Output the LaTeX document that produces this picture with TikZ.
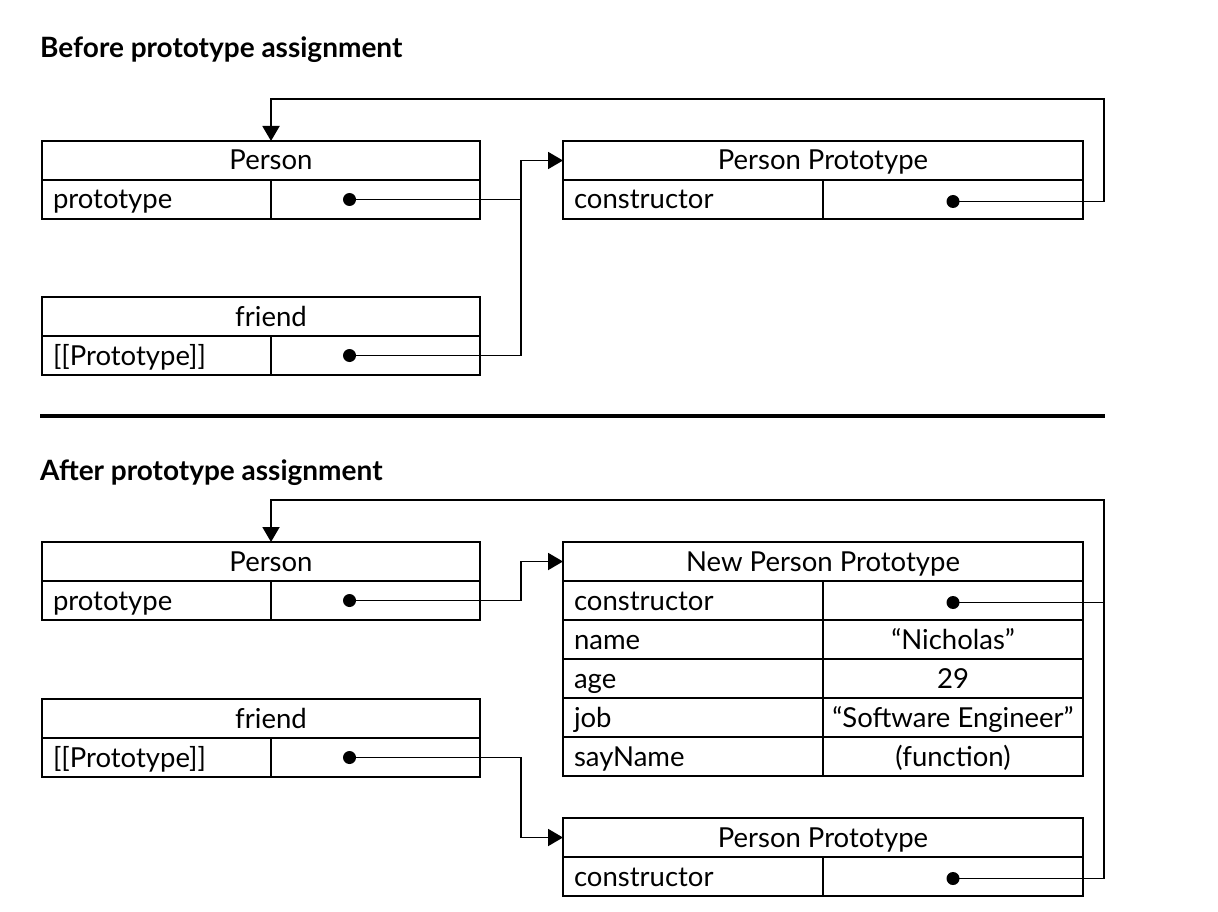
\documentclass[tikz,border=0pt]{standalone}
\usepackage{fontspec}
\setmainfont{Lato}
\usetikzlibrary{arrows.meta,positioning}

\begin{document}
\begin{tikzpicture}[x=1pt,y=-1pt,
  cell/.style={draw, line width=2pt, minimum height=39pt, inner sep=0pt, outer sep=0pt,
    text height=22pt, text depth=3pt,
    anchor=north west, font=\fontsize{27.5}{32}\selectfont},
  head/.style={cell, minimum width=#1},
  objhead/.style={head=438pt, execute at begin node={\hspace*{20pt}}},
  key/.style={cell, text width=#1, inner xsep=11pt, align=left},
  val/.style={cell, minimum width=#1},
  title/.style={anchor=base west, inner sep=0pt, font=\bfseries\fontsize{28}{33}\selectfont},
  link/.style={line width=1.9pt},
  tip/.style={-{Triangle[length=15pt,width=17pt]}}]
\useasboundingbox (0,0) rectangle (1218,912);

% before
\node[title] (before) at (40,58) {Before prototype assignment};
\node[objhead] (person) at (42,141) {Person};
\node[key=207pt] (pkey) at (person.south west) {prototype};
\node[val=209pt] (pval) at (pkey.north east) {};
\node[objhead] (friend) at (42,297) {friend};
\node[key=207pt] (fkey) at (friend.south west) {[[Prototype]]};
\node[val=209pt] (fval) at (fkey.north east) {};
\node[head=520pt] (pp) at (563,141) {Person Prototype};
\node[key=238pt] (ppkey) at (pp.south west) {constructor};
\node[val=260pt] (ppval) at (ppkey.north east) {};

\coordinate (pdot) at ([xshift=-26pt]pval.center);
\coordinate (fdot) at ([xshift=-26pt]fval.center);
\coordinate (ppdot) at ([yshift=-2pt]ppval.center);
\coordinate (jtop) at ([xshift=-42pt]pp.west);
\coordinate (looptop) at (1104,99);

\draw[link] (pdot) -- (pdot -| jtop);
\draw[link, tip] (fdot) -| (jtop) -- (pp.west);
\draw[link, tip] (ppdot) -| (looptop) -| (person.north -| pkey.east);
\foreach \d in {pdot,fdot,ppdot}
  \fill (\d) circle[radius=6.5pt];

\draw[line width=3.5pt] (40,416) -- (1105,416);

% after
\node[title] (after) at (40,480) {After prototype assignment};
\node[objhead] (person2) at (42,542) {Person};
\node[key=207pt] (pkey2) at (person2.south west) {prototype};
\node[val=209pt] (pval2) at (pkey2.north east) {};
\node[objhead] (friend2) at (42,699) {friend};
\node[key=207pt] (fkey2) at (friend2.south west) {[[Prototype]]};
\node[val=209pt] (fval2) at (fkey2.north east) {};
\node[head=520pt] (npp) at (563,542) {New Person Prototype};
\foreach \k/\v [count=\i] in {constructor/{}, name/{“Nicholas”}, age/{29},
    job/{“Software Engineer”}, sayName/{(function)}}{
  \node[key=238pt] (nkey\i) at ([yshift={-39pt*(\i-1)}]npp.south west) {\k};
  \node[val=260pt] (nval\i) at (nkey\i.north east) {\v};
}
\node[head=520pt] (pp2) at (563,818) {Person Prototype};
\node[key=238pt] (ppkey2) at (pp2.south west) {constructor};
\node[val=260pt] (ppval2) at (ppkey2.north east) {};

\coordinate (pdot2) at ([xshift=-26pt]pval2.center);
\coordinate (fdot2) at ([xshift=-26pt]fval2.center);
\coordinate (ndot) at ([yshift=-2pt]nval1.center);
\coordinate (ppdot2) at ([yshift=-2pt]ppval2.center);
\coordinate (jbot) at ([xshift=-42pt]npp.west);
\coordinate (jbot2) at ([xshift=-42pt]pp2.west);
\coordinate (loopbot) at (1104,500);

\draw[link, tip] (pdot2) -| (jbot) -- (npp.west);
\draw[link, tip] (fdot2) -| (jbot2) -- (pp2.west);
\draw[link] (ndot) -- (ndot -| loopbot);
\draw[link, tip] (ppdot2) -| (loopbot) -| (person2.north -| pkey2.east);
\foreach \d in {pdot2,fdot2,ndot,ppdot2}
  \fill (\d) circle[radius=6.5pt];
\end{tikzpicture}
\end{document}
